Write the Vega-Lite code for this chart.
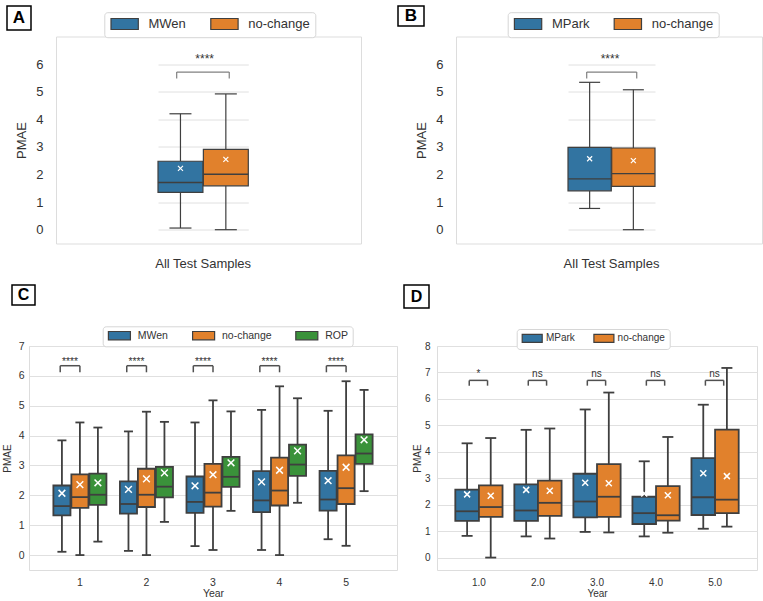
{
  "$schema": "https://vega.github.io/schema/vega-lite/v6.json",
  "padding": {"top": 5, "left": 0, "right": 0, "bottom": 0},
  "background": "white",
  "spacing": 13,
  "align": "none",
  "resolve": {"scale": {"color": "independent", "xOffset": "independent"}, "legend": {"color": "independent"}},
  "config": {
    "font": "Liberation Sans",
    "view": {"stroke": "#dddddd", "strokeWidth": 1},
    "axis": {"labelColor": "#333333", "titleColor": "#333333", "titleFontWeight": "normal", "gridColor": "#e0e0e0", "gridWidth": 1, "ticks": false, "tickSize": 0, "domain": false, "labelFont": "Liberation Sans", "titleFont": "Liberation Sans"},
    "legend": {"labelColor": "#333333", "labelFont": "Liberation Sans"}
  },
  "datasets": {
    "A": [
      {"g": "All Test Samples", "series": "MWen", "min": 0.06, "q1": 1.35, "med": 1.71, "q3": 2.48, "max": 4.2, "mean": 2.22},
      {"g": "All Test Samples", "series": "no-change", "min": 0.0, "q1": 1.59, "med": 2.01, "q3": 2.91, "max": 4.92, "mean": 2.55}
    ],
    "B": [
      {"g": "All Test Samples", "series": "MPark", "min": 0.77, "q1": 1.41, "med": 1.84, "q3": 2.98, "max": 5.34, "mean": 2.57},
      {"g": "All Test Samples", "series": "no-change", "min": 0.0, "q1": 1.57, "med": 2.03, "q3": 2.96, "max": 5.07, "mean": 2.5}
    ],
    "C": [
      {"Year": "1", "series": "MWen", "min": 0.11, "q1": 1.33, "med": 1.64, "q3": 2.33, "max": 3.84, "mean": 2.07},
      {"Year": "1", "series": "no-change", "min": 0.0, "q1": 1.58, "med": 1.94, "q3": 2.7, "max": 4.44, "mean": 2.36},
      {"Year": "1", "series": "ROP", "min": 0.45, "q1": 1.68, "med": 2.02, "q3": 2.73, "max": 4.27, "mean": 2.42},
      {"Year": "2", "series": "MWen", "min": 0.14, "q1": 1.39, "med": 1.71, "q3": 2.47, "max": 4.14, "mean": 2.2},
      {"Year": "2", "series": "no-change", "min": 0.0, "q1": 1.61, "med": 2.02, "q3": 2.89, "max": 4.8, "mean": 2.55},
      {"Year": "2", "series": "ROP", "min": 1.11, "q1": 1.93, "med": 2.29, "q3": 2.95, "max": 4.46, "mean": 2.75},
      {"Year": "3", "series": "MWen", "min": 0.3, "q1": 1.41, "med": 1.78, "q3": 2.63, "max": 4.44, "mean": 2.32},
      {"Year": "3", "series": "no-change", "min": 0.17, "q1": 1.62, "med": 2.09, "q3": 3.05, "max": 5.18, "mean": 2.69},
      {"Year": "3", "series": "ROP", "min": 1.48, "q1": 2.28, "med": 2.62, "q3": 3.29, "max": 4.81, "mean": 3.09},
      {"Year": "4", "series": "MWen", "min": 0.17, "q1": 1.44, "med": 1.83, "q3": 2.81, "max": 4.86, "mean": 2.45},
      {"Year": "4", "series": "no-change", "min": 0.0, "q1": 1.66, "med": 2.16, "q3": 3.26, "max": 5.65, "mean": 2.84},
      {"Year": "4", "series": "ROP", "min": 1.75, "q1": 2.65, "med": 3.03, "q3": 3.7, "max": 5.25, "mean": 3.49},
      {"Year": "5", "series": "MWen", "min": 0.53, "q1": 1.49, "med": 1.86, "q3": 2.82, "max": 4.83, "mean": 2.49},
      {"Year": "5", "series": "no-change", "min": 0.31, "q1": 1.71, "med": 2.24, "q3": 3.34, "max": 5.82, "mean": 2.94},
      {"Year": "5", "series": "ROP", "min": 2.14, "q1": 3.05, "med": 3.4, "q3": 4.04, "max": 5.53, "mean": 3.86}
    ],
    "D": [
      {"Year": "1.0", "series": "MPark", "min": 0.82, "q1": 1.39, "med": 1.75, "q3": 2.57, "max": 4.32, "mean": 2.39},
      {"Year": "1.0", "series": "no-change", "min": 0.0, "q1": 1.54, "med": 1.91, "q3": 2.73, "max": 4.52, "mean": 2.34},
      {"Year": "2.0", "series": "MPark", "min": 0.8, "q1": 1.39, "med": 1.78, "q3": 2.77, "max": 4.83, "mean": 2.56},
      {"Year": "2.0", "series": "no-change", "min": 0.72, "q1": 1.58, "med": 2.07, "q3": 2.91, "max": 4.88, "mean": 2.53},
      {"Year": "3.0", "series": "MPark", "min": 0.97, "q1": 1.52, "med": 2.12, "q3": 3.17, "max": 5.6, "mean": 2.83},
      {"Year": "3.0", "series": "no-change", "min": 0.95, "q1": 1.54, "med": 2.3, "q3": 3.53, "max": 6.24, "mean": 2.81},
      {"Year": "4.0", "series": "MPark", "min": 0.8, "q1": 1.27, "med": 1.68, "q3": 2.3, "max": 3.64, "mean": 2.42},
      {"Year": "4.0", "series": "no-change", "min": 0.94, "q1": 1.4, "med": 1.6, "q3": 2.7, "max": 4.56, "mean": 2.36},
      {"Year": "5.0", "series": "MPark", "min": 1.09, "q1": 1.61, "med": 2.28, "q3": 3.76, "max": 5.78, "mean": 3.19},
      {"Year": "5.0", "series": "no-change", "min": 1.17, "q1": 1.68, "med": 2.19, "q3": 4.84, "max": 7.17, "mean": 3.08}
    ],
    "sigA": [{"g": "All Test Samples", "top": 5.71, "bot": 5.48, "ty": 6.04, "label": "****"}],
    "sigB": [{"g": "All Test Samples", "top": 5.71, "bot": 5.48, "ty": 6.04, "label": "****"}],
    "sigC": [
      {"Year": "1", "top": 6.34, "bot": 6.12, "ty": 6.37, "label": "****"},
      {"Year": "2", "top": 6.34, "bot": 6.12, "ty": 6.37, "label": "****"},
      {"Year": "3", "top": 6.34, "bot": 6.12, "ty": 6.37, "label": "****"},
      {"Year": "4", "top": 6.34, "bot": 6.12, "ty": 6.37, "label": "****"},
      {"Year": "5", "top": 6.34, "bot": 6.12, "ty": 6.37, "label": "****"}
    ],
    "sigD": [
      {"Year": "1.0", "top": 6.7, "bot": 6.5, "ty": 6.81, "label": "*"},
      {"Year": "2.0", "top": 6.7, "bot": 6.5, "ty": 6.81, "label": "ns"},
      {"Year": "3.0", "top": 6.7, "bot": 6.5, "ty": 6.81, "label": "ns"},
      {"Year": "4.0", "top": 6.7, "bot": 6.5, "ty": 6.81, "label": "ns"},
      {"Year": "5.0", "top": 6.7, "bot": 6.5, "ty": 6.81, "label": "ns"}
    ]
  },
  "vconcat": [
    {
      "spacing": -20.5,
      "align": "none",
      "resolve": {"scale": {"color": "independent", "xOffset": "independent"}, "legend": {"color": "independent"}},
      "vconcat": [
        {
          "hconcat": [
            {"width": 7, "height": 1, "data": {"values": []}, "mark": "point", "view": {"stroke": null}},
            {"width": 24, "height": 24, "data": {"values": [{"t": "A"}]}, "mark": {"type": "text", "fontSize": 17, "fontWeight": "bold", "color": "black", "baseline": "middle", "align": "center"}, "encoding": {"text": {"field": "t", "type": "nominal"}}, "view": {"stroke": "black", "strokeWidth": 1.5}},
            {"width": 367, "height": 1, "data": {"values": []}, "mark": "point", "view": {"stroke": null}},
            {"width": 26, "height": 20, "data": {"values": [{"t": "B"}]}, "mark": {"type": "text", "fontSize": 17, "fontWeight": "bold", "color": "black", "baseline": "middle", "align": "center"}, "encoding": {"text": {"field": "t", "type": "nominal"}}, "view": {"stroke": "black", "strokeWidth": 1.5}}
          ],
          "spacing": 0, "bounds": "flush", "align": "none"
        },
        {
          "hconcat": [
            {"width": 56, "height": 1, "data": {"values": []}, "mark": "point", "view": {"stroke": null}},
            {
              "width": 305, "height": 207,
              "layer": [
                {
                  "data": {"name": "A"},
                  "encoding": {
                    "x": {"field": "g", "type": "nominal", "title": null, "scale": {"range": [102, 192.3], "paddingInner": 0, "paddingOuter": 0}, "axis": {"labelAngle": 0, "labelFontSize": 13, "labelPadding": 14, "grid": false}},
                    "xOffset": {"field": "series", "type": "nominal", "scale": {"domain": ["MWen", "no-change"], "paddingInner": 0.01, "paddingOuter": 0}}
                  },
                  "layer": [
                    {"mark": {"type": "rule", "color": "#3f3f3f", "strokeWidth": 1.2}, "encoding": {"y": {"field": "min", "type": "quantitative", "title": "PMAE", "scale": {"domain": [-0.5, 7], "nice": false, "zero": false}, "axis": {"values": [0, 1, 2, 3, 4, 5, 6], "labelFontSize": 13, "labelPadding": 13, "titleFontSize": 13, "titlePadding": 7}}, "y2": {"field": "q1"}}},
                    {"mark": {"type": "rule", "color": "#3f3f3f", "strokeWidth": 1.2}, "encoding": {"y": {"field": "q3", "type": "quantitative", "title": "PMAE", "axis": {"values": [0, 1, 2, 3, 4, 5, 6], "labelFontSize": 13, "labelPadding": 13, "titleFontSize": 13, "titlePadding": 7}}, "y2": {"field": "max"}}},
                    {"mark": {"type": "tick", "orient": "horizontal", "size": 22, "thickness": 1.2, "color": "#3f3f3f", "opacity": 1}, "encoding": {"y": {"field": "min", "type": "quantitative", "title": "PMAE", "axis": {"values": [0, 1, 2, 3, 4, 5, 6], "labelFontSize": 13, "labelPadding": 13, "titleFontSize": 13, "titlePadding": 7}}}},
                    {"mark": {"type": "tick", "orient": "horizontal", "size": 22, "thickness": 1.2, "color": "#3f3f3f", "opacity": 1}, "encoding": {"y": {"field": "max", "type": "quantitative", "title": "PMAE", "axis": {"values": [0, 1, 2, 3, 4, 5, 6], "labelFontSize": 13, "labelPadding": 13, "titleFontSize": 13, "titlePadding": 7}}}},
                    {"mark": {"type": "bar", "stroke": "#3f3f3f", "strokeWidth": 1.2, "opacity": 1}, "encoding": {"y": {"field": "q1", "type": "quantitative", "title": "PMAE", "axis": {"values": [0, 1, 2, 3, 4, 5, 6], "labelFontSize": 13, "labelPadding": 13, "titleFontSize": 13, "titlePadding": 7}}, "y2": {"field": "q3"},
                      "color": {"field": "series", "type": "nominal", "scale": {"domain": ["MWen", "no-change"], "range": ["#3274a1", "#e1812c"]},
                        "legend": {"orient": "none", "legendX": 48.3, "legendY": -24.3, "direction": "horizontal", "columns": 2, "title": null, "labelFontSize": 13, "symbolType": "M-0.873,-1H4.091V1H-0.873Z", "symbolSize": 121, "symbolStrokeColor": "#3f3f3f", "symbolStrokeWidth": 1.2, "symbolOpacity": 1, "labelOffset": 26.2, "columnPadding": 21.8, "padding": 5, "strokeColor": "#d6d6d6", "fillColor": "white", "cornerRadius": 3}}}},
                    {"mark": {"type": "tick", "orient": "horizontal", "size": 45, "thickness": 1.4, "color": "#3f3f3f", "opacity": 1}, "encoding": {"y": {"field": "med", "type": "quantitative", "title": "PMAE", "axis": {"values": [0, 1, 2, 3, 4, 5, 6], "labelFontSize": 13, "labelPadding": 13, "titleFontSize": 13, "titlePadding": 7}}}},
                    {"mark": {"type": "point", "shape": "M-1,-1L1,1M-1,1L1,-1", "size": 25, "filled": false, "color": "white", "strokeWidth": 1.2, "opacity": 1}, "encoding": {"y": {"field": "mean", "type": "quantitative", "title": "PMAE", "axis": {"values": [0, 1, 2, 3, 4, 5, 6], "labelFontSize": 13, "labelPadding": 13, "titleFontSize": 13, "titlePadding": 7}}}}
                  ]
                },
                {
                  "data": {"name": "sigA"},
                  "layer": [
                    {"mark": {"type": "rule", "color": "#808080", "strokeWidth": 1.2}, "encoding": {"x": {"field": "g", "type": "nominal", "bandPosition": 0.207, "title": null, "axis": {"labelAngle": 0, "labelFontSize": 13, "labelPadding": 14, "grid": false}}, "x2": {"field": "g", "bandPosition": 0.789}, "y": {"field": "top", "type": "quantitative", "title": "PMAE", "axis": {"values": [0, 1, 2, 3, 4, 5, 6], "labelFontSize": 13, "labelPadding": 13, "titleFontSize": 13, "titlePadding": 7}}}},
                    {"mark": {"type": "rule", "color": "#808080", "strokeWidth": 1.2}, "encoding": {"x": {"field": "g", "type": "nominal", "bandPosition": 0.207, "title": null, "axis": {"labelAngle": 0, "labelFontSize": 13, "labelPadding": 14, "grid": false}}, "y": {"field": "top", "type": "quantitative", "title": "PMAE", "axis": {"values": [0, 1, 2, 3, 4, 5, 6], "labelFontSize": 13, "labelPadding": 13, "titleFontSize": 13, "titlePadding": 7}}, "y2": {"field": "bot"}}},
                    {"mark": {"type": "rule", "color": "#808080", "strokeWidth": 1.2}, "encoding": {"x": {"field": "g", "type": "nominal", "bandPosition": 0.789, "title": null, "axis": {"labelAngle": 0, "labelFontSize": 13, "labelPadding": 14, "grid": false}}, "y": {"field": "top", "type": "quantitative", "title": "PMAE", "axis": {"values": [0, 1, 2, 3, 4, 5, 6], "labelFontSize": 13, "labelPadding": 13, "titleFontSize": 13, "titlePadding": 7}}, "y2": {"field": "bot"}}},
                    {"mark": {"type": "text", "fontSize": 12, "color": "#333333", "baseline": "alphabetic", "align": "center"}, "encoding": {"x": {"field": "g", "type": "nominal", "bandPosition": 0.517, "title": null, "axis": {"labelAngle": 0, "labelFontSize": 13, "labelPadding": 14, "grid": false}}, "y": {"field": "ty", "type": "quantitative", "title": "PMAE", "axis": {"values": [0, 1, 2, 3, 4, 5, 6], "labelFontSize": 13, "labelPadding": 13, "titleFontSize": 13, "titlePadding": 7}}, "text": {"field": "label", "type": "nominal"}}}
                  ]
                }
              ]
            },
            {"width": 95, "height": 1, "data": {"values": []}, "mark": "point", "view": {"stroke": null}},
            {
              "width": 306, "height": 207,
              "layer": [
                {
                  "data": {"name": "B"},
                  "encoding": {
                    "x": {"field": "g", "type": "nominal", "title": null, "scale": {"range": [112, 199], "paddingInner": 0, "paddingOuter": 0}, "axis": {"labelAngle": 0, "labelFontSize": 13, "labelPadding": 14, "grid": false}},
                    "xOffset": {"field": "series", "type": "nominal", "scale": {"domain": ["MPark", "no-change"], "paddingInner": 0.01, "paddingOuter": 0}}
                  },
                  "layer": [
                    {"mark": {"type": "rule", "color": "#3f3f3f", "strokeWidth": 1.2}, "encoding": {"y": {"field": "min", "type": "quantitative", "title": "PMAE", "scale": {"domain": [-0.5, 7], "nice": false, "zero": false}, "axis": {"values": [0, 1, 2, 3, 4, 5, 6], "labelFontSize": 13, "labelPadding": 13, "titleFontSize": 13, "titlePadding": 7}}, "y2": {"field": "q1"}}},
                    {"mark": {"type": "rule", "color": "#3f3f3f", "strokeWidth": 1.2}, "encoding": {"y": {"field": "q3", "type": "quantitative", "title": "PMAE", "axis": {"values": [0, 1, 2, 3, 4, 5, 6], "labelFontSize": 13, "labelPadding": 13, "titleFontSize": 13, "titlePadding": 7}}, "y2": {"field": "max"}}},
                    {"mark": {"type": "tick", "orient": "horizontal", "size": 21, "thickness": 1.2, "color": "#3f3f3f", "opacity": 1}, "encoding": {"y": {"field": "min", "type": "quantitative", "title": "PMAE", "axis": {"values": [0, 1, 2, 3, 4, 5, 6], "labelFontSize": 13, "labelPadding": 13, "titleFontSize": 13, "titlePadding": 7}}}},
                    {"mark": {"type": "tick", "orient": "horizontal", "size": 21, "thickness": 1.2, "color": "#3f3f3f", "opacity": 1}, "encoding": {"y": {"field": "max", "type": "quantitative", "title": "PMAE", "axis": {"values": [0, 1, 2, 3, 4, 5, 6], "labelFontSize": 13, "labelPadding": 13, "titleFontSize": 13, "titlePadding": 7}}}},
                    {"mark": {"type": "bar", "stroke": "#3f3f3f", "strokeWidth": 1.2, "opacity": 1}, "encoding": {"y": {"field": "q1", "type": "quantitative", "title": "PMAE", "axis": {"values": [0, 1, 2, 3, 4, 5, 6], "labelFontSize": 13, "labelPadding": 13, "titleFontSize": 13, "titlePadding": 7}}, "y2": {"field": "q3"},
                      "color": {"field": "series", "type": "nominal", "scale": {"domain": ["MPark", "no-change"], "range": ["#3274a1", "#e1812c"]},
                        "legend": {"orient": "none", "legendX": 51.7, "legendY": -24.3, "direction": "horizontal", "columns": 2, "title": null, "labelFontSize": 13, "symbolType": "M-0.873,-1H4.091V1H-0.873Z", "symbolSize": 121, "symbolStrokeColor": "#3f3f3f", "symbolStrokeWidth": 1.2, "symbolOpacity": 1, "labelOffset": 26.2, "columnPadding": 21.8, "padding": 5, "strokeColor": "#d6d6d6", "fillColor": "white", "cornerRadius": 3}}}},
                    {"mark": {"type": "tick", "orient": "horizontal", "size": 43, "thickness": 1.4, "color": "#3f3f3f", "opacity": 1}, "encoding": {"y": {"field": "med", "type": "quantitative", "title": "PMAE", "axis": {"values": [0, 1, 2, 3, 4, 5, 6], "labelFontSize": 13, "labelPadding": 13, "titleFontSize": 13, "titlePadding": 7}}}},
                    {"mark": {"type": "point", "shape": "M-1,-1L1,1M-1,1L1,-1", "size": 25, "filled": false, "color": "white", "strokeWidth": 1.2, "opacity": 1}, "encoding": {"y": {"field": "mean", "type": "quantitative", "title": "PMAE", "axis": {"values": [0, 1, 2, 3, 4, 5, 6], "labelFontSize": 13, "labelPadding": 13, "titleFontSize": 13, "titlePadding": 7}}}}
                  ]
                },
                {
                  "data": {"name": "sigB"},
                  "layer": [
                    {"mark": {"type": "rule", "color": "#808080", "strokeWidth": 1.2}, "encoding": {"x": {"field": "g", "type": "nominal", "bandPosition": 0.215, "title": null, "axis": {"labelAngle": 0, "labelFontSize": 13, "labelPadding": 14, "grid": false}}, "x2": {"field": "g", "bandPosition": 0.79}, "y": {"field": "top", "type": "quantitative", "title": "PMAE", "axis": {"values": [0, 1, 2, 3, 4, 5, 6], "labelFontSize": 13, "labelPadding": 13, "titleFontSize": 13, "titlePadding": 7}}}},
                    {"mark": {"type": "rule", "color": "#808080", "strokeWidth": 1.2}, "encoding": {"x": {"field": "g", "type": "nominal", "bandPosition": 0.215, "title": null, "axis": {"labelAngle": 0, "labelFontSize": 13, "labelPadding": 14, "grid": false}}, "y": {"field": "top", "type": "quantitative", "title": "PMAE", "axis": {"values": [0, 1, 2, 3, 4, 5, 6], "labelFontSize": 13, "labelPadding": 13, "titleFontSize": 13, "titlePadding": 7}}, "y2": {"field": "bot"}}},
                    {"mark": {"type": "rule", "color": "#808080", "strokeWidth": 1.2}, "encoding": {"x": {"field": "g", "type": "nominal", "bandPosition": 0.79, "title": null, "axis": {"labelAngle": 0, "labelFontSize": 13, "labelPadding": 14, "grid": false}}, "y": {"field": "top", "type": "quantitative", "title": "PMAE", "axis": {"values": [0, 1, 2, 3, 4, 5, 6], "labelFontSize": 13, "labelPadding": 13, "titleFontSize": 13, "titlePadding": 7}}, "y2": {"field": "bot"}}},
                    {"mark": {"type": "text", "fontSize": 12, "color": "#333333", "baseline": "alphabetic", "align": "center"}, "encoding": {"x": {"field": "g", "type": "nominal", "bandPosition": 0.483, "title": null, "axis": {"labelAngle": 0, "labelFontSize": 13, "labelPadding": 14, "grid": false}}, "y": {"field": "ty", "type": "quantitative", "title": "PMAE", "axis": {"values": [0, 1, 2, 3, 4, 5, 6], "labelFontSize": 13, "labelPadding": 13, "titleFontSize": 13, "titlePadding": 7}}, "text": {"field": "label", "type": "nominal"}}}
                  ]
                }
              ]
            }
          ],
          "spacing": 0, "bounds": "flush", "align": "none",
          "resolve": {"scale": {"color": "independent", "xOffset": "independent"}, "legend": {"color": "independent"}}
        }
      ]
    },
    {
      "spacing": 16,
      "align": "none",
      "resolve": {"scale": {"color": "independent", "xOffset": "independent"}, "legend": {"color": "independent"}},
      "vconcat": [
        {
          "hconcat": [
            {"width": 12, "height": 1, "data": {"values": []}, "mark": "point", "view": {"stroke": null}},
            {"width": 23, "height": 20, "data": {"values": [{"t": "C"}]}, "mark": {"type": "text", "fontSize": 16, "fontWeight": "bold", "color": "black", "baseline": "middle", "align": "center"}, "encoding": {"text": {"field": "t", "type": "nominal"}}, "view": {"stroke": "black", "strokeWidth": 1.5}},
            {"width": 369, "height": 1, "data": {"values": []}, "mark": "point", "view": {"stroke": null}},
            {"width": 25, "height": 23, "data": {"values": [{"t": "D"}]}, "mark": {"type": "text", "fontSize": 16, "fontWeight": "bold", "color": "black", "baseline": "middle", "align": "center"}, "encoding": {"text": {"field": "t", "type": "nominal"}}, "view": {"stroke": "black", "strokeWidth": 1.5}}
          ],
          "spacing": 0, "bounds": "flush", "align": "none"
        },
        {
          "hconcat": [
            {"width": 29, "height": 1, "data": {"values": []}, "mark": "point", "view": {"stroke": null}},
            {
              "width": 368, "height": 224,
              "layer": [
                {
                  "data": {"name": "C"},
                  "encoding": {
                    "x": {"field": "Year", "type": "nominal", "title": "Year", "scale": {"paddingInner": 0, "paddingOuter": 0.265}, "axis": {"labelAngle": 0, "labelFontSize": 10.5, "labelPadding": 7, "titleFontSize": 10.5, "titlePadding": 1, "grid": false}},
                    "xOffset": {"field": "series", "type": "nominal", "scale": {"domain": ["MWen", "no-change", "ROP"], "paddingInner": 0.05, "paddingOuter": 0.375}}
                  },
                  "layer": [
                    {"mark": {"type": "rule", "color": "#3f3f3f", "strokeWidth": 1.8}, "encoding": {"y": {"field": "min", "type": "quantitative", "title": "PMAE", "scale": {"domain": [-0.5, 7], "nice": false, "zero": false}, "axis": {"values": [0, 1, 2, 3, 4, 5, 6, 7], "labelFontSize": 10.5, "labelPadding": 5, "titleFontSize": 10, "titlePadding": 6}}, "y2": {"field": "q1"}}},
                    {"mark": {"type": "rule", "color": "#3f3f3f", "strokeWidth": 1.8}, "encoding": {"y": {"field": "q3", "type": "quantitative", "title": "PMAE", "axis": {"values": [0, 1, 2, 3, 4, 5, 6, 7], "labelFontSize": 10.5, "labelPadding": 5, "titleFontSize": 10, "titlePadding": 6}}, "y2": {"field": "max"}}},
                    {"mark": {"type": "tick", "orient": "horizontal", "size": 9, "thickness": 1.8, "color": "#3f3f3f", "opacity": 1}, "encoding": {"y": {"field": "min", "type": "quantitative", "title": "PMAE", "axis": {"values": [0, 1, 2, 3, 4, 5, 6, 7], "labelFontSize": 10.5, "labelPadding": 5, "titleFontSize": 10, "titlePadding": 6}}}},
                    {"mark": {"type": "tick", "orient": "horizontal", "size": 9, "thickness": 1.8, "color": "#3f3f3f", "opacity": 1}, "encoding": {"y": {"field": "max", "type": "quantitative", "title": "PMAE", "axis": {"values": [0, 1, 2, 3, 4, 5, 6, 7], "labelFontSize": 10.5, "labelPadding": 5, "titleFontSize": 10, "titlePadding": 6}}}},
                    {"mark": {"type": "bar", "stroke": "#3f3f3f", "strokeWidth": 1.8, "opacity": 1}, "encoding": {"y": {"field": "q1", "type": "quantitative", "title": "PMAE", "axis": {"values": [0, 1, 2, 3, 4, 5, 6, 7], "labelFontSize": 10.5, "labelPadding": 5, "titleFontSize": 10, "titlePadding": 6}}, "y2": {"field": "q3"},
                      "color": {"field": "series", "type": "nominal", "scale": {"domain": ["MWen", "no-change", "ROP"], "range": ["#3274a1", "#e1812c", "#3a923a"]},
                        "legend": {"orient": "none", "legendX": 73.7, "legendY": -19.7, "direction": "horizontal", "columns": 3, "title": null, "labelFontSize": 10.5, "symbolType": "M-0.855,-1H4.446V1H-0.855Z", "symbolSize": 69, "symbolStrokeColor": "#3f3f3f", "symbolStrokeWidth": 1.2, "symbolOpacity": 1, "labelOffset": 20.6, "columnPadding": 21.2, "padding": 4, "strokeColor": "#d6d6d6", "fillColor": "white", "cornerRadius": 3}}}},
                    {"mark": {"type": "tick", "orient": "horizontal", "size": 17, "thickness": 1.8, "color": "#3f3f3f", "opacity": 1}, "encoding": {"y": {"field": "med", "type": "quantitative", "title": "PMAE", "axis": {"values": [0, 1, 2, 3, 4, 5, 6, 7], "labelFontSize": 10.5, "labelPadding": 5, "titleFontSize": 10, "titlePadding": 6}}}},
                    {"mark": {"type": "point", "shape": "M-1,-1L1,1M-1,1L1,-1", "size": 45, "filled": false, "color": "white", "strokeWidth": 1.5, "opacity": 1}, "encoding": {"y": {"field": "mean", "type": "quantitative", "title": "PMAE", "axis": {"values": [0, 1, 2, 3, 4, 5, 6, 7], "labelFontSize": 10.5, "labelPadding": 5, "titleFontSize": 10, "titlePadding": 6}}}}
                  ]
                },
                {
                  "data": {"name": "sigC"},
                  "layer": [
                    {"mark": {"type": "rule", "color": "#505050", "strokeWidth": 1.5}, "encoding": {"x": {"field": "Year", "type": "nominal", "bandPosition": 0.204, "title": "Year", "axis": {"labelAngle": 0, "labelFontSize": 10.5, "labelPadding": 7, "titleFontSize": 10.5, "titlePadding": 1, "grid": false}}, "x2": {"field": "Year", "bandPosition": 0.5}, "y": {"field": "top", "type": "quantitative", "title": "PMAE", "axis": {"values": [0, 1, 2, 3, 4, 5, 6, 7], "labelFontSize": 10.5, "labelPadding": 5, "titleFontSize": 10, "titlePadding": 6}}}},
                    {"mark": {"type": "rule", "color": "#505050", "strokeWidth": 1.5}, "encoding": {"x": {"field": "Year", "type": "nominal", "bandPosition": 0.204, "title": "Year", "axis": {"labelAngle": 0, "labelFontSize": 10.5, "labelPadding": 7, "titleFontSize": 10.5, "titlePadding": 1, "grid": false}}, "y": {"field": "top", "type": "quantitative", "title": "PMAE", "axis": {"values": [0, 1, 2, 3, 4, 5, 6, 7], "labelFontSize": 10.5, "labelPadding": 5, "titleFontSize": 10, "titlePadding": 6}}, "y2": {"field": "bot"}}},
                    {"mark": {"type": "rule", "color": "#505050", "strokeWidth": 1.5}, "encoding": {"x": {"field": "Year", "type": "nominal", "bandPosition": 0.5, "title": "Year", "axis": {"labelAngle": 0, "labelFontSize": 10.5, "labelPadding": 7, "titleFontSize": 10.5, "titlePadding": 1, "grid": false}}, "y": {"field": "top", "type": "quantitative", "title": "PMAE", "axis": {"values": [0, 1, 2, 3, 4, 5, 6, 7], "labelFontSize": 10.5, "labelPadding": 5, "titleFontSize": 10, "titlePadding": 6}}, "y2": {"field": "bot"}}},
                    {"mark": {"type": "text", "fontSize": 10.3, "color": "#333333", "baseline": "alphabetic", "align": "center"}, "encoding": {"x": {"field": "Year", "type": "nominal", "bandPosition": 0.35, "title": "Year", "axis": {"labelAngle": 0, "labelFontSize": 10.5, "labelPadding": 7, "titleFontSize": 10.5, "titlePadding": 1, "grid": false}}, "y": {"field": "ty", "type": "quantitative", "title": "PMAE", "axis": {"values": [0, 1, 2, 3, 4, 5, 6, 7], "labelFontSize": 10.5, "labelPadding": 5, "titleFontSize": 10, "titlePadding": 6}}, "text": {"field": "label", "type": "nominal"}}}
                  ]
                }
              ]
            },
            {"width": 40, "height": 1, "data": {"values": []}, "mark": "point", "view": {"stroke": null}},
            {
              "width": 320, "height": 224,
              "layer": [
                {
                  "data": {"name": "D"},
                  "encoding": {
                    "x": {"field": "Year", "type": "nominal", "title": "Year", "scale": {"paddingInner": 0, "paddingOuter": 0.21}, "axis": {"labelAngle": 0, "labelFontSize": 10, "labelPadding": 7, "titleFontSize": 10, "titlePadding": 1, "grid": false}},
                    "xOffset": {"field": "series", "type": "nominal", "scale": {"domain": ["MPark", "no-change"], "paddingInner": 0, "paddingOuter": 0.25}}
                  },
                  "layer": [
                    {"mark": {"type": "rule", "color": "#3f3f3f", "strokeWidth": 1.8}, "encoding": {"y": {"field": "min", "type": "quantitative", "title": "PMAE", "scale": {"domain": [-0.47, 8], "nice": false, "zero": false}, "axis": {"values": [0, 1, 2, 3, 4, 5, 6, 7, 8], "labelFontSize": 10, "labelPadding": 7, "titleFontSize": 10, "titlePadding": 2}}, "y2": {"field": "q1"}}},
                    {"mark": {"type": "rule", "color": "#3f3f3f", "strokeWidth": 1.8}, "encoding": {"y": {"field": "q3", "type": "quantitative", "title": "PMAE", "axis": {"values": [0, 1, 2, 3, 4, 5, 6, 7, 8], "labelFontSize": 10, "labelPadding": 7, "titleFontSize": 10, "titlePadding": 2}}, "y2": {"field": "max"}}},
                    {"mark": {"type": "tick", "orient": "horizontal", "size": 11, "thickness": 1.8, "color": "#3f3f3f", "opacity": 1}, "encoding": {"y": {"field": "min", "type": "quantitative", "title": "PMAE", "axis": {"values": [0, 1, 2, 3, 4, 5, 6, 7, 8], "labelFontSize": 10, "labelPadding": 7, "titleFontSize": 10, "titlePadding": 2}}}},
                    {"mark": {"type": "tick", "orient": "horizontal", "size": 11, "thickness": 1.8, "color": "#3f3f3f", "opacity": 1}, "encoding": {"y": {"field": "max", "type": "quantitative", "title": "PMAE", "axis": {"values": [0, 1, 2, 3, 4, 5, 6, 7, 8], "labelFontSize": 10, "labelPadding": 7, "titleFontSize": 10, "titlePadding": 2}}}},
                    {"mark": {"type": "bar", "stroke": "#3f3f3f", "strokeWidth": 1.8, "opacity": 1}, "encoding": {"y": {"field": "q1", "type": "quantitative", "title": "PMAE", "axis": {"values": [0, 1, 2, 3, 4, 5, 6, 7, 8], "labelFontSize": 10, "labelPadding": 7, "titleFontSize": 10, "titlePadding": 2}}, "y2": {"field": "q3"},
                      "color": {"field": "series", "type": "nominal", "scale": {"domain": ["MPark", "no-change"], "range": ["#3274a1", "#e1812c"]},
                        "legend": {"orient": "none", "legendX": 79.7, "legendY": -17, "direction": "horizontal", "columns": 2, "title": null, "labelFontSize": 10, "symbolType": "M-0.875,-1H4.125V1H-0.875Z", "symbolSize": 64, "symbolStrokeColor": "#3f3f3f", "symbolStrokeWidth": 1.2, "symbolOpacity": 1, "labelOffset": 15.2, "columnPadding": 15.7, "padding": 4, "strokeColor": "#d6d6d6", "fillColor": "white", "cornerRadius": 3}}}},
                    {"mark": {"type": "tick", "orient": "horizontal", "size": 23, "thickness": 1.8, "color": "#3f3f3f", "opacity": 1}, "encoding": {"y": {"field": "med", "type": "quantitative", "title": "PMAE", "axis": {"values": [0, 1, 2, 3, 4, 5, 6, 7, 8], "labelFontSize": 10, "labelPadding": 7, "titleFontSize": 10, "titlePadding": 2}}}},
                    {"mark": {"type": "point", "shape": "M-1,-1L1,1M-1,1L1,-1", "size": 36, "filled": false, "color": "white", "strokeWidth": 1.5, "opacity": 1}, "encoding": {"y": {"field": "mean", "type": "quantitative", "title": "PMAE", "axis": {"values": [0, 1, 2, 3, 4, 5, 6, 7, 8], "labelFontSize": 10, "labelPadding": 7, "titleFontSize": 10, "titlePadding": 2}}}}
                  ]
                },
                {
                  "data": {"name": "sigD"},
                  "layer": [
                    {"mark": {"type": "rule", "color": "#505050", "strokeWidth": 1.5}, "encoding": {"x": {"field": "Year", "type": "nominal", "bandPosition": 0.336, "title": "Year", "axis": {"labelAngle": 0, "labelFontSize": 10, "labelPadding": 7, "titleFontSize": 10, "titlePadding": 1, "grid": false}}, "x2": {"field": "Year", "bandPosition": 0.646}, "y": {"field": "top", "type": "quantitative", "title": "PMAE", "axis": {"values": [0, 1, 2, 3, 4, 5, 6, 7, 8], "labelFontSize": 10, "labelPadding": 7, "titleFontSize": 10, "titlePadding": 2}}}},
                    {"mark": {"type": "rule", "color": "#505050", "strokeWidth": 1.5}, "encoding": {"x": {"field": "Year", "type": "nominal", "bandPosition": 0.336, "title": "Year", "axis": {"labelAngle": 0, "labelFontSize": 10, "labelPadding": 7, "titleFontSize": 10, "titlePadding": 1, "grid": false}}, "y": {"field": "top", "type": "quantitative", "title": "PMAE", "axis": {"values": [0, 1, 2, 3, 4, 5, 6, 7, 8], "labelFontSize": 10, "labelPadding": 7, "titleFontSize": 10, "titlePadding": 2}}, "y2": {"field": "bot"}}},
                    {"mark": {"type": "rule", "color": "#505050", "strokeWidth": 1.5}, "encoding": {"x": {"field": "Year", "type": "nominal", "bandPosition": 0.646, "title": "Year", "axis": {"labelAngle": 0, "labelFontSize": 10, "labelPadding": 7, "titleFontSize": 10, "titlePadding": 1, "grid": false}}, "y": {"field": "top", "type": "quantitative", "title": "PMAE", "axis": {"values": [0, 1, 2, 3, 4, 5, 6, 7, 8], "labelFontSize": 10, "labelPadding": 7, "titleFontSize": 10, "titlePadding": 2}}, "y2": {"field": "bot"}}},
                    {"mark": {"type": "text", "fontSize": 10, "color": "#333333", "baseline": "alphabetic", "align": "center"}, "encoding": {"x": {"field": "Year", "type": "nominal", "bandPosition": 0.49, "title": "Year", "axis": {"labelAngle": 0, "labelFontSize": 10, "labelPadding": 7, "titleFontSize": 10, "titlePadding": 1, "grid": false}}, "y": {"field": "ty", "type": "quantitative", "title": "PMAE", "axis": {"values": [0, 1, 2, 3, 4, 5, 6, 7, 8], "labelFontSize": 10, "labelPadding": 7, "titleFontSize": 10, "titlePadding": 2}}, "text": {"field": "label", "type": "nominal"}}}
                  ]
                }
              ]
            }
          ],
          "spacing": 0, "bounds": "flush", "align": "none",
          "resolve": {"scale": {"color": "independent", "xOffset": "independent"}, "legend": {"color": "independent"}}
        }
      ]
    }
  ]
}
